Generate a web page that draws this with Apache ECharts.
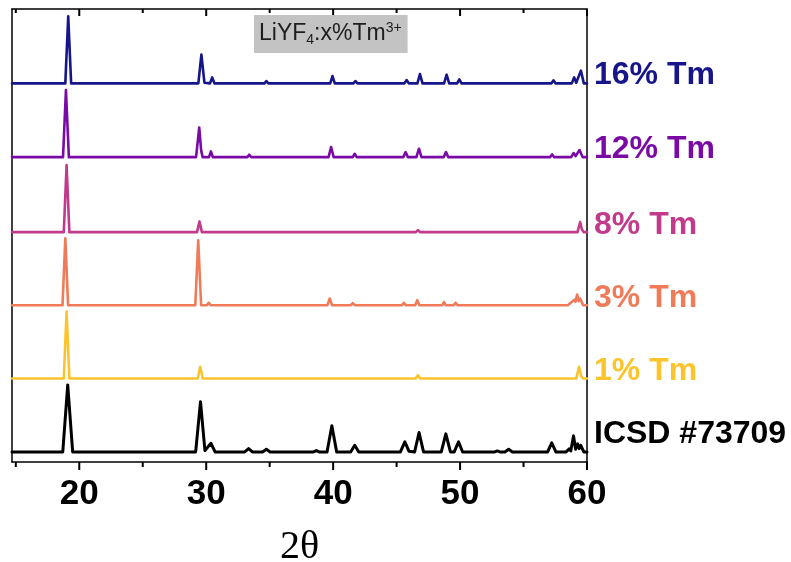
<!DOCTYPE html>
<html>
<head>
<meta charset="utf-8">
<script src="https://cdn.jsdelivr.net/npm/echarts@6/dist/echarts.min.js"></script>
<style>
  html, body { margin: 0; padding: 0; background: #ffffff; }
  #chart { width: 791px; height: 562px; }
</style>
</head>
<body>
<div id="chart"></div>
<script>
// XRD patterns of LiYF4:x%Tm3+ powders and the ICSD #73709 reference.
// Each pattern is a list of [2θ, relative intensity] vertices (strongest peak = 100).

const sampleNames = ['16% Tm', '12% Tm', '8% Tm', '3% Tm', '1% Tm', 'ICSD #73709'];

const pattern16 = [
  [14.7, 0],
  [18.9, 0], [19.13, 100], [19.36, 0],
  [29.38, 0], [29.62, 43], [29.86, 1], [30.3, 0], [30.47, 9], [30.65, 0],
  [33.27, 0], [33.42, 2.5], [33.57, 0],
  [34.59, 0], [34.74, 3.5], [34.89, 0],
  [38.55, 0], [38.68, 1.5], [38.81, 0],
  [39.77, 0], [39.95, 11], [40.13, 0],
  [41.6, 0], [41.76, 3.5], [41.92, 0],
  [45.62, 0], [45.79, 5], [45.96, 0],
  [46.64, 0], [46.84, 14], [47.04, 0],
  [48.74, 0], [48.94, 13], [49.14, 0],
  [49.77, 0], [49.94, 6], [50.11, 0],
  [53.71, 0], [53.86, 2.5], [54.01, 0],
  [57.19, 0], [57.36, 4.5], [57.53, 0],
  [58.8, 0], [58.99, 9], [59.15, 1], [59.3, 1], [59.52, 19], [59.75, 0],
  [60, 0]
];

const pattern12 = [
  [14.7, 0],
  [18.72, 0], [18.95, 100], [19.18, 0],
  [29.2, 0], [29.45, 44], [29.6, 10], [29.72, 0], [30.22, 0], [30.37, 8.5], [30.52, 0],
  [33.24, 0], [33.39, 3.5], [33.54, 0],
  [34.51, 0], [34.66, 2.5], [34.81, 0],
  [38.47, 0], [38.6, 1.5], [38.73, 0],
  [39.64, 0], [39.84, 15], [40.04, 0],
  [41.54, 0], [41.7, 5], [41.86, 0],
  [45.53, 0], [45.71, 7.5], [45.89, 0],
  [46.56, 0], [46.76, 12.5], [46.96, 0],
  [48.71, 0], [48.89, 7.5], [49.07, 0],
  [49.7, 0], [49.84, 2.5], [49.98, 0],
  [53.68, 0], [53.81, 1.5], [53.94, 0],
  [57.1, 0], [57.25, 4], [57.4, 0],
  [58.75, 0], [58.94, 6], [59.1, 1.5], [59.41, 10.5], [59.65, 0],
  [60, 0]
];

const pattern8 = [
  [14.7, 0],
  [18.78, 0], [19.0, 100], [19.22, 0],
  [29.28, 0], [29.47, 16], [29.66, 0],
  [38.47, 0], [38.6, 1.5], [38.73, 0],
  [46.52, 0], [46.68, 3], [46.84, 0],
  [59.25, 0], [59.46, 15], [59.6, 4], [59.75, 0],
  [60, 0]
];

const pattern3 = [
  [14.7, 0],
  [18.68, 0], [18.9, 100], [19.12, 0],
  [29.14, 0], [29.37, 97], [29.6, 0], [30.05, 0], [30.2, 3.5], [30.35, 0],
  [33.15, 0], [33.3, 1], [33.45, 0],
  [34.35, 0], [34.5, 1.5], [34.65, 0],
  [38.47, 0], [38.6, 1.5], [38.73, 0],
  [39.55, 0], [39.73, 10], [39.91, 0],
  [41.4, 0], [41.55, 3], [41.7, 0],
  [45.42, 0], [45.57, 3.5], [45.72, 0],
  [46.46, 0], [46.63, 7.5], [46.8, 0],
  [48.58, 0], [48.73, 4.5], [48.88, 0],
  [49.5, 0], [49.65, 3.5], [49.8, 0],
  [53.6, 0], [53.73, 1.5], [53.86, 0],
  [57.0, 0], [57.15, 2], [57.3, 0],
  [58.52, 0], [58.67, 3], [58.82, 2], [59.0, 8], [59.1, 5], [59.22, 16], [59.35, 6], [59.46, 10], [59.7, 0],
  [60, 0]
];

const pattern1 = [
  [14.7, 0],
  [18.78, 0], [19.0, 100], [19.22, 0],
  [29.33, 0], [29.53, 17.5], [29.73, 0],
  [38.47, 0], [38.6, 2], [38.73, 0],
  [39.67, 0], [39.8, 1.5], [39.93, 0],
  [46.5, 0], [46.68, 5], [46.86, 0],
  [59.15, 0], [59.38, 17.5], [59.55, 3], [59.7, 0],
  [60, 0]
];

const patternICSD = [
  [14.7, 0],
  [18.7, 0], [19.09, 100], [19.48, 0],
  [29.17, 0], [29.55, 75], [29.9, 2], [30.37, 13], [30.7, 0],
  [33.04, 0], [33.34, 5], [33.64, 0],
  [34.44, 0], [34.74, 4], [35.04, 0],
  [38.45, 0], [38.68, 2], [38.9, 0],
  [39.52, 0], [39.9, 39], [40.28, 0],
  [41.38, 0], [41.7, 10], [42.02, 0],
  [45.3, 0], [45.65, 15], [45.98, 1], [46.42, 0], [46.77, 29], [47.12, 0],
  [48.52, 0], [48.88, 27], [49.24, 0], [49.54, 0], [49.88, 15], [50.2, 0],
  [52.74, 0], [52.94, 1.5], [53.14, 0],
  [53.53, 0], [53.83, 4], [54.13, 0],
  [56.9, 0], [57.22, 13.5], [57.55, 0],
  [58.35, 0], [58.6, 4.5], [58.72, 1.5], [58.94, 24], [59.1, 4], [59.26, 12], [59.38, 5], [59.5, 10], [59.75, 0],
  [60, 0]
];

const patterns = [pattern16, pattern12, pattern8, pattern3, pattern1, patternICSD];

const majorTicks = [20, 30, 40, 50, 60];
const minorTicks = [15, 25, 35, 45, 55];

// Drawing settings
const lineColors = ['#16168a', '#7a0aa6', '#c23a8b', '#ef7b58', '#fcc42c', '#000000'];
const stackShift = [565, 455, 343, 234, 124.5, 15];
const labelLift = [-8, -8, -7, -7, -7, -18];

const chart = echarts.init(document.getElementById('chart'), null, { renderer: 'canvas' });

const font = "'Liberation Sans', Arial, sans-serif";
const xRange = { min: 14.7, max: 60 };
const frameLine = { color: '#000', width: 1.5 };

function frameAxis(position, extra) {
  return Object.assign({
    type: 'value', position: position, min: xRange.min, max: xRange.max,
    axisLine: { show: true, onZero: false, lineStyle: frameLine },
    axisTick: { show: false },
    axisLabel: { show: false },
    splitLine: { show: false }
  }, extra || {});
}

// Tick marks on the frame: outward below the plot, inward along the top.
// Each entry is [2θ, 0, isMajor].
const tickMarks = majorTicks.map(v => [v, 0, 1]).concat(minorTicks.map(v => [v, 0, 0]));

function renderTick(params, api) {
  const x = api.coord([api.value(0), 0])[0];
  const cs = params.coordSys;
  const major = api.value(2) === 1;
  const lenOut = major ? 8 : 5;
  const lenIn = major ? 7 : 4;
  const bottom = cs.y + cs.height;
  const style = { stroke: '#000', lineWidth: 2 };
  return {
    type: 'group',
    children: [
      { type: 'line', shape: { x1: x, y1: bottom, x2: x, y2: bottom + lenOut }, style: style },
      { type: 'line', shape: { x1: x, y1: cs.y, x2: x, y2: cs.y + lenIn }, style: style }
    ]
  };
}

const option = {
  backgroundColor: '#ffffff',
  animation: false,
  title: {
    text: '{a|LiYF}{s|4}{a|:x%Tm}{p|3+}',
    left: 254, top: 15,
    backgroundColor: '#c3c3c3',
    padding: [6, 6, 6, 5],
    textStyle: {
      fontWeight: 'normal',
      rich: {
        a: { fontFamily: font, fontWeight: 'normal', fontSize: 23, lineHeight: 26, color: '#1e1e1e' },
        s: { fontFamily: font, fontWeight: 'normal', fontSize: 14, lineHeight: 14, color: '#1e1e1e', verticalAlign: 'bottom' },
        p: { fontFamily: font, fontWeight: 'normal', fontSize: 14, lineHeight: 14, color: '#1e1e1e', verticalAlign: 'top' }
      }
    }
  },
  grid: { left: 12, right: 204, top: 9, bottom: 100, containLabel: false, outerBoundsMode: 'none' },
  xAxis: [
    frameAxis('bottom', {
      axisLabel: { show: true, customValues: majorTicks, margin: 15,
                   fontFamily: font, fontWeight: 'bold', fontSize: 35, color: '#000' },
      name: '2θ', nameLocation: 'middle', nameGap: 65,
      nameTextStyle: { fontFamily: "'Liberation Serif', 'Times New Roman', serif",
                       fontSize: 40, color: '#000' }
    }),
    frameAxis('top')
  ],
  yAxis: [
    { type: 'value', position: 'left', min: 0, max: 676,
      axisLine: { show: true, onZero: false, lineStyle: frameLine },
      axisTick: { show: false }, axisLabel: { show: false }, splitLine: { show: false } },
    { type: 'value', position: 'right', min: 0, max: 676,
      axisLine: { show: true, onZero: false, lineStyle: frameLine },
      axisTick: { show: false }, axisLabel: { show: false }, splitLine: { show: false } }
  ],
  series: patterns.map((pts, i) => ({
    name: sampleNames[i],
    type: 'line',
    xAxisIndex: 0, yAxisIndex: 0,
    showSymbol: false,
    symbol: 'none',
    smooth: false,
    lineStyle: { color: lineColors[i], width: i === 5 ? 3 : 2.6, join: 'round', cap: 'round' },
    itemStyle: { color: lineColors[i] },
    data: pts.map(p => [p[0], p[1] + stackShift[i]]),
    endLabel: {
      show: true,
      formatter: sampleNames[i],
      distance: 5,
      offset: [2, labelLift[i]],
      fontFamily: font, fontWeight: 'bold', fontSize: 32,
      color: lineColors[i]
    },
    z: 3
  })).concat([{
    name: 'ticks',
    type: 'custom',
    xAxisIndex: 0, yAxisIndex: 0,
    silent: true,
    clip: false,
    z: 5,
    encode: { x: 0, y: 1 },
    data: tickMarks,
    renderItem: renderTick
  }])
};

chart.setOption(option);
</script>
</body>
</html>
